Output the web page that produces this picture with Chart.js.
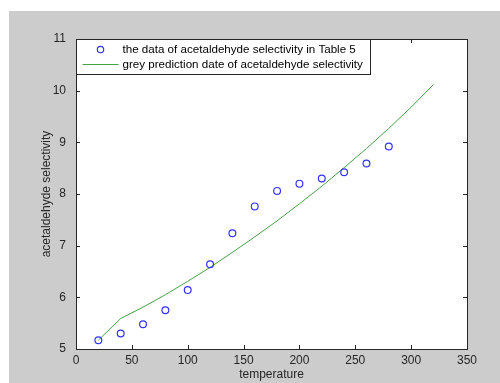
<!DOCTYPE html>
<html>
<head>
<meta charset="utf-8">
<script src="https://cdn.jsdelivr.net/npm/chart.js@4"></script>
<style>
  html, body { margin: 0; padding: 0; background: #ffffff; }
  #wrap { width: 500px; height: 383px; }
</style>
</head>
<body>
<div id="wrap"><canvas id="chart" width="500" height="383"></canvas></div>
<script>
// measured points (Table 5) and the grey GM(1,1) prediction curve
const temperature = [20, 40, 60, 80, 100, 120, 140, 160, 180, 200, 220, 240, 260, 280];
const selectivity = [5.17, 5.30, 5.48, 5.75, 6.14, 6.64, 7.24, 7.76, 8.06, 8.20, 8.30, 8.42, 8.59, 8.92];
const predTemperature = [20, 40, 60, 80, 100, 120, 140, 160, 180, 200, 220, 240, 260, 280, 300, 320];
const predSelectivity = [5.17, 5.59, 5.81, 6.05, 6.31, 6.58, 6.87, 7.17, 7.48, 7.81, 8.15, 8.51, 8.88, 9.27, 9.68, 10.12];
const xTicks = [0, 50, 100, 150, 200, 250, 300, 350];
const yTicks = [5, 6, 7, 8, 9, 10, 11];

const FONT = 'Liberation Sans, Arial, Helvetica, sans-serif';
const TEXT = '#262626';

// grey figure background with white axes box, like a matlab figure
const figureBg = {
    id: 'figureBg',
    beforeDraw(chart) {
        const ctx = chart.ctx, a = chart.chartArea;
        ctx.save();
        ctx.fillStyle = '#ffffff';
        ctx.fillRect(0, 0, chart.width, chart.height);
        ctx.fillStyle = '#cccccc';
        ctx.fillRect(9, 11, chart.width - 9, chart.height - 11);
        ctx.fillStyle = '#ffffff';
        ctx.fillRect(a.left, a.top, a.right - a.left, a.bottom - a.top);
        ctx.restore();
    }
};

// box border and inward tick marks on all four sides
const axesBox = {
    id: 'axesBox',
    afterDatasetsDraw(chart) {
        const ctx = chart.ctx, a = chart.chartArea;
        const sx = chart.scales.x, sy = chart.scales.y;
        const len = 4;
        ctx.save();
        ctx.strokeStyle = TEXT;
        ctx.lineWidth = 1;
        ctx.beginPath();
        xTicks.forEach(v => {
            const px = Math.round(sx.getPixelForValue(v)) + 0.5;
            ctx.moveTo(px, a.bottom); ctx.lineTo(px, a.bottom - len);
            ctx.moveTo(px, a.top); ctx.lineTo(px, a.top + len);
        });
        yTicks.forEach(v => {
            const py = Math.round(sy.getPixelForValue(v)) + 0.5;
            ctx.moveTo(a.left, py); ctx.lineTo(a.left + len, py);
            ctx.moveTo(a.right, py); ctx.lineTo(a.right - len, py);
        });
        ctx.stroke();
        ctx.strokeRect(Math.round(a.left) + 0.5, Math.round(a.top) + 0.5,
            Math.round(a.right - a.left), Math.round(a.bottom - a.top));
        ctx.restore();
    }
};

// matlab style legend box in the top left corner
const boxLegend = {
    id: 'boxLegend',
    afterDraw(chart) {
        const ctx = chart.ctx, a = chart.chartArea;
        const ds = chart.data.datasets;
        const x0 = Math.round(a.left) + 0.5, y0 = Math.round(a.top) + 0.5;
        ctx.save();
        ctx.fillStyle = '#ffffff';
        ctx.fillRect(x0, y0, 294, 35);
        ctx.strokeStyle = TEXT;
        ctx.lineWidth = 1;
        ctx.strokeRect(x0, y0, 294, 35);
        // circle marker
        ctx.strokeStyle = ds[0].borderColor;
        ctx.lineWidth = ds[0].borderWidth;
        ctx.beginPath();
        ctx.arc(x0 + 24, y0 + 10, 3.2, 0, Math.PI * 2);
        ctx.stroke();
        // line sample
        ctx.strokeStyle = ds[1].borderColor;
        ctx.lineWidth = ds[1].borderWidth;
        ctx.beginPath();
        ctx.moveTo(x0 + 6, y0 + 25);
        ctx.lineTo(x0 + 42, y0 + 25);
        ctx.stroke();
        ctx.fillStyle = '#000000';
        ctx.font = '11.6px ' + FONT;
        ctx.textBaseline = 'middle';
        ctx.fillText(ds[0].label, x0 + 46, y0 + 10);
        ctx.fillText(ds[1].label, x0 + 46, y0 + 25);
        ctx.restore();
    }
};

new Chart(document.getElementById('chart'), {
    type: 'scatter',
    data: {
        datasets: [{
            label: 'the data of acetaldehyde selectivity in Table 5',
            data: temperature.map((t, i) => ({x: t, y: selectivity[i]})),
            borderColor: '#3333ff',
            backgroundColor: 'rgba(0,0,0,0)',
            borderWidth: 1.2,
            pointRadius: 3.4,
            pointStyle: 'circle',
            showLine: false
        }, {
            type: 'line',
            label: 'grey prediction date of acetaldehyde selectivity',
            data: predTemperature.map((t, i) => ({x: t, y: predSelectivity[i]})),
            borderColor: '#46a346',
            borderWidth: 1,
            pointRadius: 0,
            tension: 0,
            fill: false
        }]
    },
    options: {
        responsive: false,
        animation: false,
        layout: { padding: { left: 0, top: 39, right: 33, bottom: 0 } },
        plugins: {
            legend: { display: false },
            tooltip: { enabled: false }
        },
        scales: {
            x: {
                type: 'linear',
                min: 0,
                max: 350,
                afterBuildTicks: s => { s.ticks = xTicks.map(v => ({value: v})); },
                afterFit: s => { s.height = 34; },
                grid: { display: false, drawTicks: false },
                border: { display: false },
                ticks: { padding: 4, color: TEXT, font: { family: FONT, size: 12 }, maxRotation: 0 },
                title: { display: true, text: 'temperature', color: TEXT,
                    font: { family: FONT, size: 12 }, padding: { top: 0, bottom: 1 } }
            },
            y: {
                type: 'linear',
                min: 5,
                max: 11,
                afterBuildTicks: s => { s.ticks = yTicks.map(v => ({value: v})); },
                afterFit: s => { s.width = 76; },
                grid: { display: false, drawTicks: false },
                border: { display: false },
                ticks: { padding: 10, color: TEXT, font: { family: FONT, size: 12 } },
                title: { display: true, text: 'acetaldehyde selectivity', color: TEXT,
                    font: { family: FONT, size: 12 }, padding: { top: 39, bottom: 0 } }
            }
        }
    },
    plugins: [figureBg, axesBox, boxLegend]
});
</script>
</body>
</html>
